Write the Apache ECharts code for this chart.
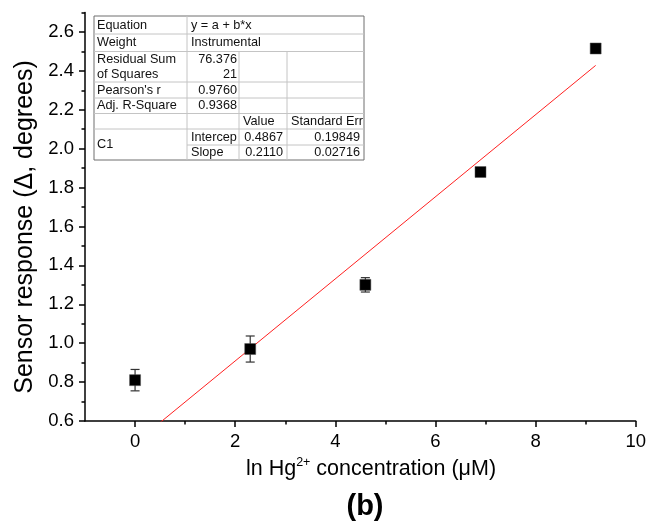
<!DOCTYPE html>
<html>
<head>
<meta charset="utf-8">
<title>Sensor response</title>
<script src="https://cdn.jsdelivr.net/npm/echarts@6/dist/echarts.min.js"></script>
<style>
  html, body { margin: 0; padding: 0; background: #fff; }
  #chart { width: 649px; height: 524px; }
</style>
</head>
<body>
<div id="chart"></div>
<script>
// measured points (x = ln concentration, y = response, err = error bar half-length)
var xVals = [0, 2.3, 4.6, 6.9, 9.2];
var yVals = [0.81, 0.97, 1.30, 1.88, 2.515];
var errVals = [0.055, 0.067, 0.037, 0, 0];

// linear fit from table
var intercept = 0.4867;
var slope = 0.2110;
var fitX = [0, 9.2];

// tick values
var xMajor = [0, 2, 4, 6, 8, 10];
var xMinor = [1, 3, 5, 7, 9];
var yMajor = [0.6, 0.8, 1.0, 1.2, 1.4, 1.6, 1.8, 2.0, 2.2, 2.4, 2.6];
var yMinor = [0.7, 0.9, 1.1, 1.3, 1.5, 1.7, 1.9, 2.1, 2.3, 2.5, 2.7];

// fit table text
var tableRows = [
  ['Equation', 'y = a + b*x', '', ''],
  ['Weight', 'Instrumental', '', ''],
  ['Residual Sum\nof Squares', '76.376\n21', '', ''],
  ["Pearson's r", '0.9760', '', ''],
  ['Adj. R-Square', '0.9368', '', ''],
  ['', '', 'Value', 'Standard Err'],
  ['C1', 'Intercep', '0.4867', '0.19849'],
  ['', 'Slope', '0.2110', '0.02716']
];

var chart = echarts.init(document.getElementById('chart'));

var pts = xVals.map(function (x, i) { return [x, yVals[i]]; });
var errData = xVals.map(function (x, i) { return [x, yVals[i], errVals[i]]; });
var fitData = fitX.map(function (x) { return [x, intercept + slope * x]; });

var ff = '"Liberation Sans", Arial, sans-serif';

// ---- table graphic ----
var colX = [94, 187, 239, 287, 364];
var rowY = [16, 34, 51.5, 82, 98, 113.5, 129, 145, 160];
var font = '12.7px ' + ff;
var g = [];
g.push({ type: 'rect', z: 100, shape: { x: colX[0], y: rowY[0], width: colX[4] - colX[0], height: rowY[8] - rowY[0] },
  style: { fill: '#fff', stroke: '#6e6e6e', lineWidth: 1 } });
// horizontal lines
for (var r = 1; r < 8; r++) {
  var x0 = (r === 7) ? colX[1] : colX[0];
  g.push({ type: 'line', z: 101, shape: { x1: x0, y1: rowY[r], x2: colX[4], y2: rowY[r] }, style: { stroke: '#c4c4c4', lineWidth: 1 } });
}
// vertical lines
g.push({ type: 'line', z: 101, shape: { x1: colX[1], y1: rowY[0], x2: colX[1], y2: rowY[8] }, style: { stroke: '#c4c4c4', lineWidth: 1 } });
g.push({ type: 'line', z: 101, shape: { x1: colX[2], y1: rowY[2], x2: colX[2], y2: rowY[8] }, style: { stroke: '#c4c4c4', lineWidth: 1 } });
g.push({ type: 'line', z: 101, shape: { x1: colX[3], y1: rowY[2], x2: colX[3], y2: rowY[8] }, style: { stroke: '#c4c4c4', lineWidth: 1 } });

function cell(txt, x, y, align) {
  if (!txt) return;
  g.push({ type: 'text', z: 102, x: x, y: y,
    style: { text: txt, font: font, fill: '#111', align: align, verticalAlign: 'middle', lineHeight: 15 } });
}
tableRows.forEach(function (row, r) {
  var cy = (rowY[r] + rowY[r + 1]) / 2;
  cell(row[0], colX[0] + 3, r === 6 ? (rowY[6] + rowY[8]) / 2 : cy, 'left'); // C1 spans two rows
  if (r < 2 || r >= 6) cell(row[1], colX[1] + 4, cy, 'left');
  else cell(row[1], colX[2] - 2, cy, 'right');
  if (r === 5) cell(row[2], colX[2] + 4, cy, 'left');
  else cell(row[2], colX[3] - 4, cy, 'right');
  cell(row[3], colX[4] - (r === 5 ? 1 : 4), cy, 'right');
});

// axis titles and "(b)" caption
g.push({ type: 'text', x: 25, y: 227, rotation: Math.PI / 2,
  style: { text: 'Sensor response (Δ, degrees)', font: '25px ' + ff, fill: '#000', align: 'center', verticalAlign: 'middle' } });
g.push({ type: 'text', x: 371, y: 469,
  style: { text: '{n|ln Hg}{s|2+}{n| concentration (μM)}', fill: '#000', align: 'center', verticalAlign: 'middle',
    rich: {
      n: { fontSize: 21.5, fontFamily: ff, fill: '#000' },
      s: { fontSize: 12.5, fontFamily: ff, fill: '#000', padding: [0, 0, 12, 0] }
    } } });
g.push({ type: 'text', x: 365, y: 507,
  style: { text: '(b)', font: 'bold 29px ' + ff, fill: '#000', align: 'center', verticalAlign: 'middle' } });

var axisFont = { fontFamily: ff, color: '#000' };

var option = {
  animation: false,
  grid: { left: 85, right: 11, top: 12.5, bottom: 103 },
  xAxis: [{
    type: 'value', min: -1, max: 10,
    splitLine: { show: false },
    axisLine: { onZero: false, lineStyle: { color: '#000', width: 1.5 } },
    axisTick: { customValues: xMajor, length: 6, lineStyle: { color: '#000', width: 1.5 } },
    axisLabel: Object.assign({ customValues: xMajor, fontSize: 18.5, margin: 11 }, axisFont)
  }, {
    type: 'value', min: -1, max: 10, position: 'bottom',
    splitLine: { show: false },
    axisLine: { show: false, onZero: false },
    axisTick: { customValues: xMinor, length: 3.5, lineStyle: { color: '#000', width: 1.5 } },
    axisLabel: { show: false }
  }],
  yAxis: [{
    type: 'value', min: 0.6, max: 2.7,
    splitLine: { show: false },
    axisLine: { onZero: false, lineStyle: { color: '#000', width: 1.5 } },
    axisTick: { customValues: yMajor, length: 6, lineStyle: { color: '#000', width: 1.5 } },
    axisLabel: Object.assign({ customValues: yMajor, fontSize: 18.5, margin: 11,
      formatter: function (v) { return v.toFixed(1); } }, axisFont)
  }, {
    type: 'value', min: 0.6, max: 2.7, position: 'left',
    splitLine: { show: false },
    axisLine: { show: false, onZero: false },
    axisTick: { customValues: yMinor, length: 3.5, lineStyle: { color: '#000', width: 1.5 } },
    axisLabel: { show: false }
  }],
  series: [{
    type: 'line',
    data: fitData,
    showSymbol: false,
    lineStyle: { color: '#ff2020', width: 1 },
    clip: true,
    z: 2
  }, {
    type: 'custom',
    data: errData,
    renderItem: function (params, api) {
      var e = api.value(2);
      if (!e) return null;
      var top = api.coord([api.value(0), api.value(1) + e]);
      var bot = api.coord([api.value(0), api.value(1) - e]);
      var w = 4.5;
      var st = { stroke: '#333', lineWidth: 1.2 };
      return { type: 'group', children: [
        { type: 'line', shape: { x1: top[0], y1: top[1], x2: bot[0], y2: bot[1] }, style: st },
        { type: 'line', shape: { x1: top[0] - w, y1: top[1], x2: top[0] + w, y2: top[1] }, style: st },
        { type: 'line', shape: { x1: bot[0] - w, y1: bot[1], x2: bot[0] + w, y2: bot[1] }, style: st }
      ] };
    },
    z: 3
  }, {
    type: 'scatter',
    data: pts,
    symbol: 'rect',
    symbolSize: 11,
    itemStyle: { color: '#000', opacity: 1, borderColor: '#555', borderWidth: 0.5 },
    z: 4
  }],
  graphic: g
};

chart.setOption(option);
</script>
</body>
</html>
